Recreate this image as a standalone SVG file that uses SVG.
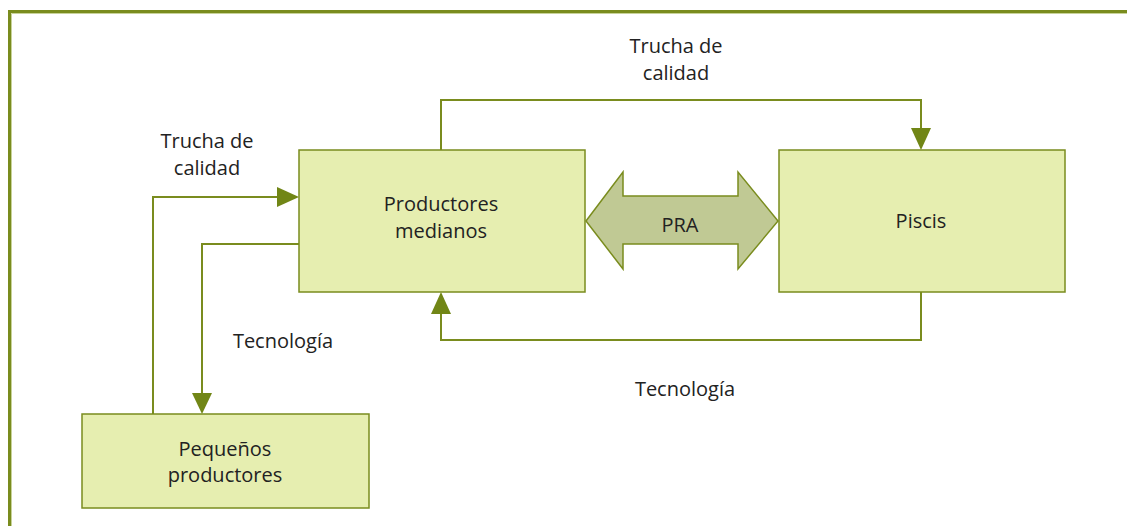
<svg xmlns="http://www.w3.org/2000/svg" width="1127" height="526" viewBox="0 0 1127 526">
<defs>
<style>
.box{fill:#e6eeb0;stroke:#7a8c1e;stroke-width:1.5}
.ln{fill:none;stroke:#7a8c1e;stroke-width:2}
.ah{fill:#718616;stroke:none}
.t{font-family:"Open Sans","Noto Sans",sans-serif;font-size:20px;fill:#222;text-anchor:middle}
</style>
</defs>
<rect width="1127" height="526" fill="#fff"/>
<g id="frame">
<path d="M9.5 526 V11.5 H1127" fill="none" stroke="#7a8c1e" stroke-width="3"/>
<path d="M11.5 526 V13.5 H1127" fill="none" stroke="#c8d39a" stroke-width="1"/>
</g>
<g id="connectors">
<path class="ln" d="M441 150 V100 H921 V130"/>
<polygon class="ah" points="911,128 931,128 921,150"/>
<path class="ln" d="M921 292 V340 H441 V312"/>
<polygon class="ah" points="431,314 451,314 441,292"/>
<path class="ln" d="M153 414 V197 H279"/>
<polygon class="ah" points="277,187 277,207 299,197"/>
<path class="ln" d="M299 244 H202 V395"/>
<polygon class="ah" points="192,393 212,393 202,414"/>
<text class="t" x="676" y="53">Trucha de</text>
<text class="t" x="676" y="80">calidad</text>
<text class="t" x="207" y="148">Trucha de</text>
<text class="t" x="207" y="175">calidad</text>
<text class="t" x="283" y="348">Tecnología</text>
<text class="t" x="685" y="396">Tecnología</text>
</g>
<g id="productores-medianos">
<rect class="box" x="299" y="150" width="286" height="142"/>
<text class="t" x="441" y="211">Productores</text>
<text class="t" x="441" y="238">medianos</text>
</g>
<g id="pra">
<polygon points="586,221 623,172 623,196 738,196 738,172 778,221 738,269 738,244 623,244 623,269" fill="#c0c994" stroke="#7a8c1e" stroke-width="1.5"/>
<text class="t" x="680" y="232">PRA</text>
</g>
<g id="piscis">
<rect class="box" x="779" y="150" width="286" height="142"/>
<text class="t" x="921" y="228">Piscis</text>
</g>
<g id="pequenos-productores">
<rect class="box" x="82" y="414" width="287" height="94"/>
<text class="t" x="225" y="456">Pequeños</text>
<text class="t" x="225" y="482">productores</text>
</g>
</svg>
